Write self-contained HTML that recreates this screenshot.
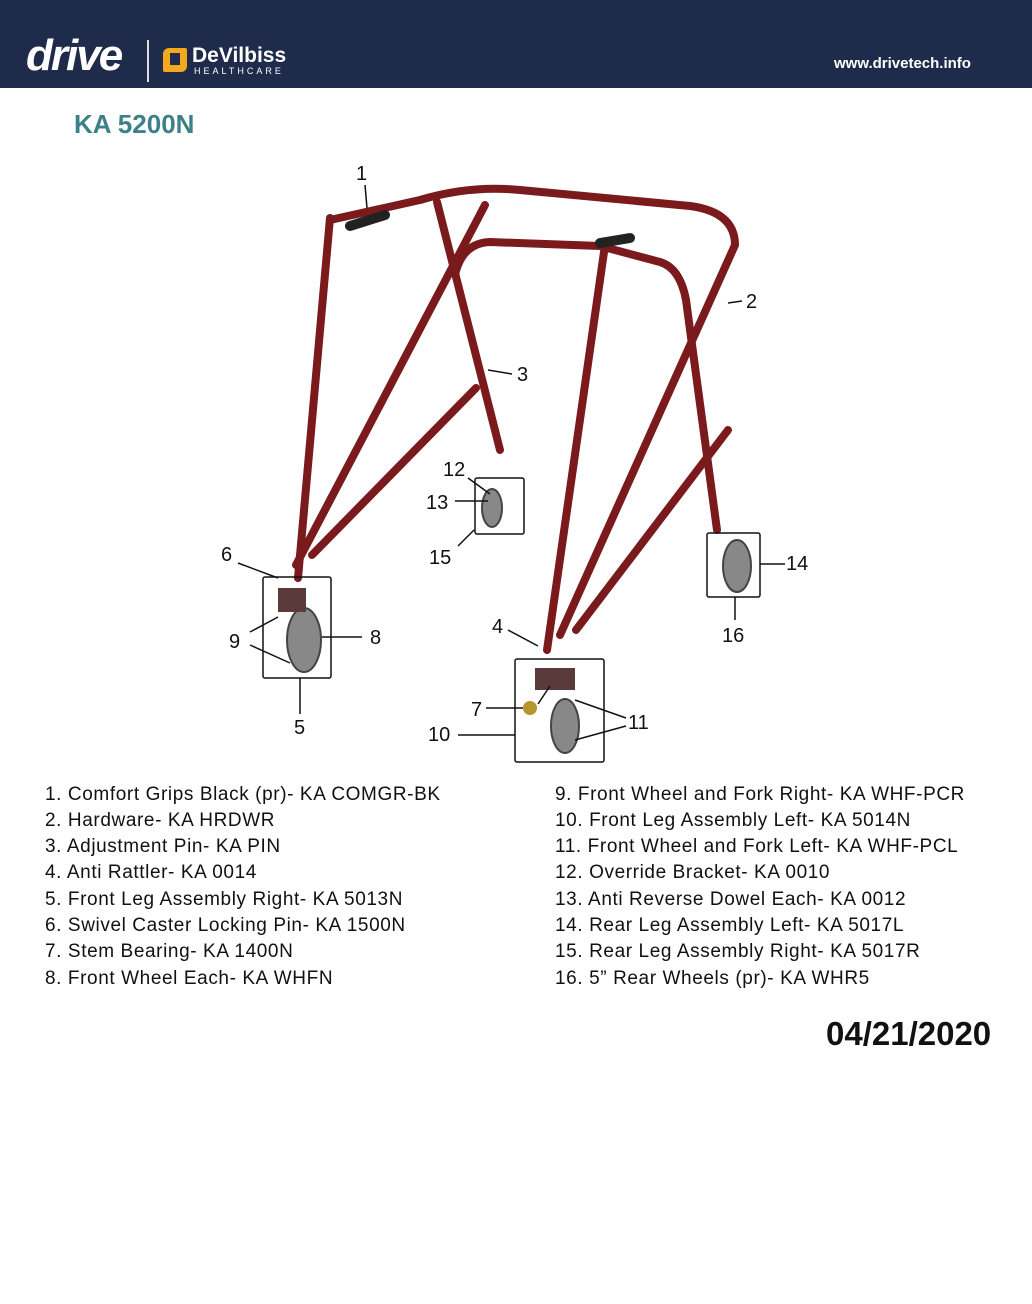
<!DOCTYPE html>
<html><head><style>
body{margin:0;width:1032px;height:1304px;background:#fff;position:relative;font-family:"Liberation Sans",sans-serif;overflow:hidden}
.hdr{position:absolute;left:0;top:0;width:1032px;height:88px;background:#1f2b4a}
.t{position:absolute;white-space:nowrap}
.li{position:absolute;font-size:19px;letter-spacing:0.6px;color:#111;white-space:nowrap}
</style></head><body>
<div class="hdr"></div>
<div class="t" style="left:26px;top:34px;font-size:44px;font-weight:bold;font-style:italic;color:#fff;letter-spacing:-2px;line-height:44px">drive</div>
<div style="position:absolute;left:147px;top:40px;width:2px;height:42px;background:#ddd"></div>
<div style="position:absolute;left:163px;top:48px;width:24px;height:24px;background:#f2a91e;border-radius:6px 2px 6px 2px"></div>
<div style="position:absolute;left:170px;top:53px;width:10px;height:12px;background:#1f2b4a"></div>
<div class="t" style="left:192px;top:44px;font-size:21px;font-weight:bold;color:#fff">DeVilbiss</div>
<div class="t" style="left:194px;top:66px;font-size:9px;color:#fff;letter-spacing:3px">HEALTHCARE</div>
<div class="t" style="left:834px;top:55px;font-size:15px;font-weight:bold;color:#fff">www.drivetech.info</div>
<div class="t" style="left:74px;top:109px;font-size:26px;font-weight:bold;color:#3d8088">KA 5200N</div>

<svg width="1032" height="800" style="position:absolute;left:0;top:0" viewBox="0 0 1032 800">
<g fill="none" stroke="#7a1a1d" stroke-width="8" stroke-linecap="round" stroke-linejoin="round">
<path d="M330 218 L298 578"/>
<path d="M485 205 L296 565"/>
<path d="M476 388 L312 555"/>
<path d="M330 220 L420 200 Q470 185 520 190 L690 206 Q735 212 735 245 L560 635"/>
<path d="M437 202 L500 450"/>
<path d="M455 275 Q462 243 490 242 L600 246 L660 262 Q680 268 686 300 L717 530"/>
<path d="M605 245 L547 650"/>
<path d="M728 430 L576 630"/>
</g>
<g stroke="#222" stroke-width="10" stroke-linecap="round">
<line x1="350" y1="226" x2="385" y2="215"/>
<line x1="600" y1="243" x2="630" y2="238"/>
</g>
<g fill="#888" stroke="#444" stroke-width="2">
<ellipse cx="304" cy="640" rx="17" ry="32"/>
<ellipse cx="492" cy="508" rx="10" ry="19"/>
<ellipse cx="737" cy="566" rx="14" ry="26"/>
<ellipse cx="565" cy="726" rx="14" ry="27"/>
</g>
<g fill="#5a3a3a"><rect x="278" y="588" width="28" height="24"/><rect x="535" y="668" width="40" height="22"/></g>
<circle cx="530" cy="708" r="7" fill="#b8942c"/>
<g fill="none" stroke="#111" stroke-width="1.5">
<rect x="263" y="577" width="68" height="101" rx="2"/>
<rect x="475" y="478" width="49" height="56" rx="2"/>
<rect x="707" y="533" width="53" height="64" rx="2"/>
<rect x="515" y="659" width="89" height="103" rx="2"/>
<path d="M365 185 L367 208 M728 303 L742 301 M488 370 L512 374 M468 478 L490 494 M455 501 L488 501 M458 546 L474 530 M238 563 L278 578 M250 632 L278 617 M250 645 L290 663 M322 637 L362 637 M300 678 L300 714 M760 564 L785 564 M735 597 L735 620 M508 630 L538 646 M458 735 L515 735 M486 708 L523 708 M575 700 L626 718 M575 740 L626 726 M538 704 L550 686"/>
</g>
<g font-family="Liberation Sans,sans-serif" font-size="20" fill="#111">
<text x="356" y="180">1</text><text x="746" y="308">2</text><text x="517" y="381">3</text>
<text x="443" y="476">12</text><text x="426" y="509">13</text><text x="429" y="564">15</text>
<text x="221" y="561">6</text><text x="229" y="648">9</text><text x="370" y="644">8</text>
<text x="294" y="734">5</text><text x="786" y="570">14</text><text x="722" y="642">16</text>
<text x="492" y="633">4</text><text x="471" y="716">7</text><text x="428" y="741">10</text><text x="628" y="729">11</text>
</g>
</svg>

<div class="li" style="left:45px;top:784px">1. Comfort Grips Black (pr)- KA COMGR-BK</div>
<div class="li" style="left:45px;top:810px">2. Hardware- KA HRDWR</div>
<div class="li" style="left:45px;top:836px">3. Adjustment Pin- KA PIN</div>
<div class="li" style="left:45px;top:862px">4. Anti Rattler- KA 0014</div>
<div class="li" style="left:45px;top:889px">5. Front Leg Assembly Right- KA 5013N</div>
<div class="li" style="left:45px;top:915px">6. Swivel Caster Locking Pin- KA 1500N</div>
<div class="li" style="left:45px;top:941px">7. Stem Bearing- KA 1400N</div>
<div class="li" style="left:45px;top:968px">8. Front Wheel Each- KA WHFN</div>
<div class="li" style="left:555px;top:784px">9. Front Wheel and Fork Right- KA WHF-PCR</div>
<div class="li" style="left:555px;top:810px">10. Front Leg Assembly Left- KA 5014N</div>
<div class="li" style="left:555px;top:836px">11. Front Wheel and Fork Left- KA WHF-PCL</div>
<div class="li" style="left:555px;top:862px">12. Override Bracket- KA 0010</div>
<div class="li" style="left:555px;top:889px">13. Anti Reverse Dowel Each- KA 0012</div>
<div class="li" style="left:555px;top:915px">14. Rear Leg Assembly Left- KA 5017L</div>
<div class="li" style="left:555px;top:941px">15. Rear Leg Assembly Right- KA 5017R</div>
<div class="li" style="left:555px;top:968px">16. 5” Rear Wheels (pr)- KA WHR5</div>
<div class="t" style="left:826px;top:1015px;font-size:33px;font-weight:bold;color:#111">04/21/2020</div>
</body></html>
